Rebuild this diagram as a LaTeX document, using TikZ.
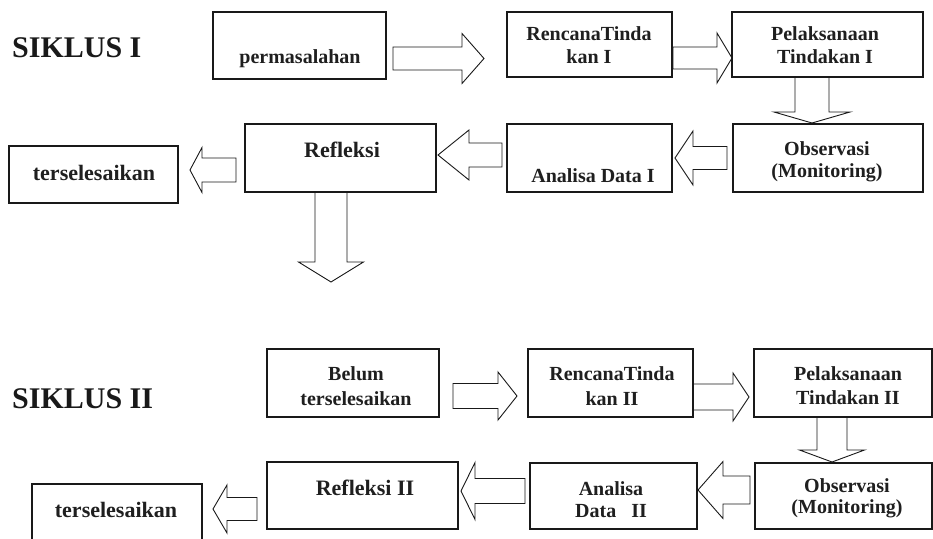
\documentclass[tikz,border=0pt]{standalone}
\usepackage{fontspec}
\setmainfont{Liberation Serif}
\begin{document}
\begin{tikzpicture}[x=1pt,y=-1pt,
  box/.style={draw=black!90, line width=1.1pt, fill=none, inner sep=0pt, rectangle},
  blk/.style={draw=black!90, line width=0.9pt, line join=miter, fill=none},
  txt/.style={inner sep=0pt, anchor=base, font=\bfseries\fontsize{20}{23}\selectfont, text=black!88},
  txtb/.style={txt, font=\bfseries\fontsize{22}{25}\selectfont},
  title/.style={inner sep=0pt, anchor=base west, font=\bfseries\fontsize{30}{34}\selectfont, text=black!90}]
\newcommand\blkH[6]{% x-tail, x-headbase, x-tip, y-center, shaft half, head half
  \draw[blk] ({#1},{#4-#5}) -- ({#2},{#4-#5}) -- ({#2},{#4-#6}) -- ({#3},{#4}) -- ({#2},{#4+#6}) -- ({#2},{#4+#5}) -- ({#1},{#4+#5}) -- cycle;}
\newcommand\blkV[6]{% y-tail, y-headbase, y-tip, x-center, shaft half, head half
  \draw[blk] ({#4-#5},{#1}) -- ({#4-#5},{#2}) -- ({#4-#6},{#2}) -- ({#4},{#3}) -- ({#4+#6},{#2}) -- ({#4+#5},{#2}) -- ({#4+#5},{#1}) -- cycle;}
\useasboundingbox (0,0) rectangle (933,538);
\fill[white] (0,0) rectangle (933,538);

% ---------------- SIKLUS I ----------------
\node[title] (s1) at (12,57) {SIKLUS I};

\node[box, minimum width=173pt, minimum height=67pt] (b1) at (299.5,45.5) {};
\node[txt] (t1) at (300,63) {permasalahan};

\node[box, minimum width=165pt, minimum height=65pt] (b2) at (589.5,44.5) {};
\node[txt] (t2a) at (589,40) {RencanaTinda};
\node[txt] (t2b) at (589,63) {kan I};

\node[box, minimum width=191pt, minimum height=65pt] (b3) at (827.5,44.5) {};
\node[txt] (t3a) at (825,40) {Pelaksanaan};
\node[txt] (t3b) at (825,63) {Tindakan I};

\node[box, minimum width=190pt, minimum height=68pt] (b4) at (828,158) {};
\node[txt] (t4a) at (827,155) {Observasi};
\node[txt] (t4b) at (827,177) {(Monitoring)};

\node[box, minimum width=165pt, minimum height=68pt] (b5) at (589.5,158) {};
\node[txt] (t5) at (593,182) {Analisa Data I};

\node[box, minimum width=191pt, minimum height=68pt] (b6) at (340.5,158) {};
\node[txtb] (t6) at (342,157) {Refleksi};

\node[box, minimum width=169pt, minimum height=57pt] (b7) at (93.5,174.5) {};
\node[txtb] (t7) at (94,180) {terselesaikan};

\blkH{393}{462}{484}{58.5}{11.5}{25}
\blkH{673}{717}{732}{58}{11}{25}
\blkV{77}{112}{123}{812}{17}{38}
\blkH{727}{693}{675}{158}{11.5}{27}
\blkH{502}{469}{438}{155}{12}{25}
\blkH{236}{202}{190}{170}{12}{22.5}
\blkV{192}{262}{282}{331}{16}{32.5}

% ---------------- SIKLUS II ----------------
\node[title] (s2) at (12,408) {SIKLUS II};

\node[box, minimum width=172pt, minimum height=68pt] (c1) at (353,383) {};
\node[txt] (u1a) at (356,380) {Belum};
\node[txt] (u1b) at (356,405) {terselesaikan};

\node[box, minimum width=165pt, minimum height=68pt] (c2) at (610.5,383) {};
\node[txt] (u2a) at (612,380) {RencanaTinda};
\node[txt] (u2b) at (612,405) {kan II};

\node[box, minimum width=178pt, minimum height=68pt] (c3) at (843,383) {};
\node[txt] (u3a) at (848,380) {Pelaksanaan};
\node[txt] (u3b) at (848,404) {Tindakan II};

\node[box, minimum width=177pt, minimum height=66pt] (c4) at (843.5,496) {};
\node[txt] (u4a) at (847,492) {Observasi};
\node[txt] (u4b) at (847,513) {(Monitoring)};

\node[box, minimum width=167pt, minimum height=66pt] (c5) at (613.5,496) {};
\node[txt] (u5a) at (611,495) {Analisa};
\node[txt] (u5b) at (611,517) {Data\ \ \ II};

\node[box, minimum width=191pt, minimum height=67pt] (c6) at (362.5,495.5) {};
\node[txtb] (u6) at (365,495) {Refleksi II};

\node[box, minimum width=170pt, minimum height=62pt] (c7) at (117,515) {};
\node[txtb] (u7) at (116,517) {terselesaikan};

\blkH{453}{498}{517}{396}{12.5}{24}
\blkH{693}{733}{749}{397}{13}{24}
\blkV{417}{450}{462}{832}{15}{32.5}
\blkH{750}{723}{698}{490}{14}{28.5}
\blkH{525}{475}{461}{491}{12.5}{28.5}
\blkH{257}{227}{213}{509}{11.5}{24}
\end{tikzpicture}
\end{document}
